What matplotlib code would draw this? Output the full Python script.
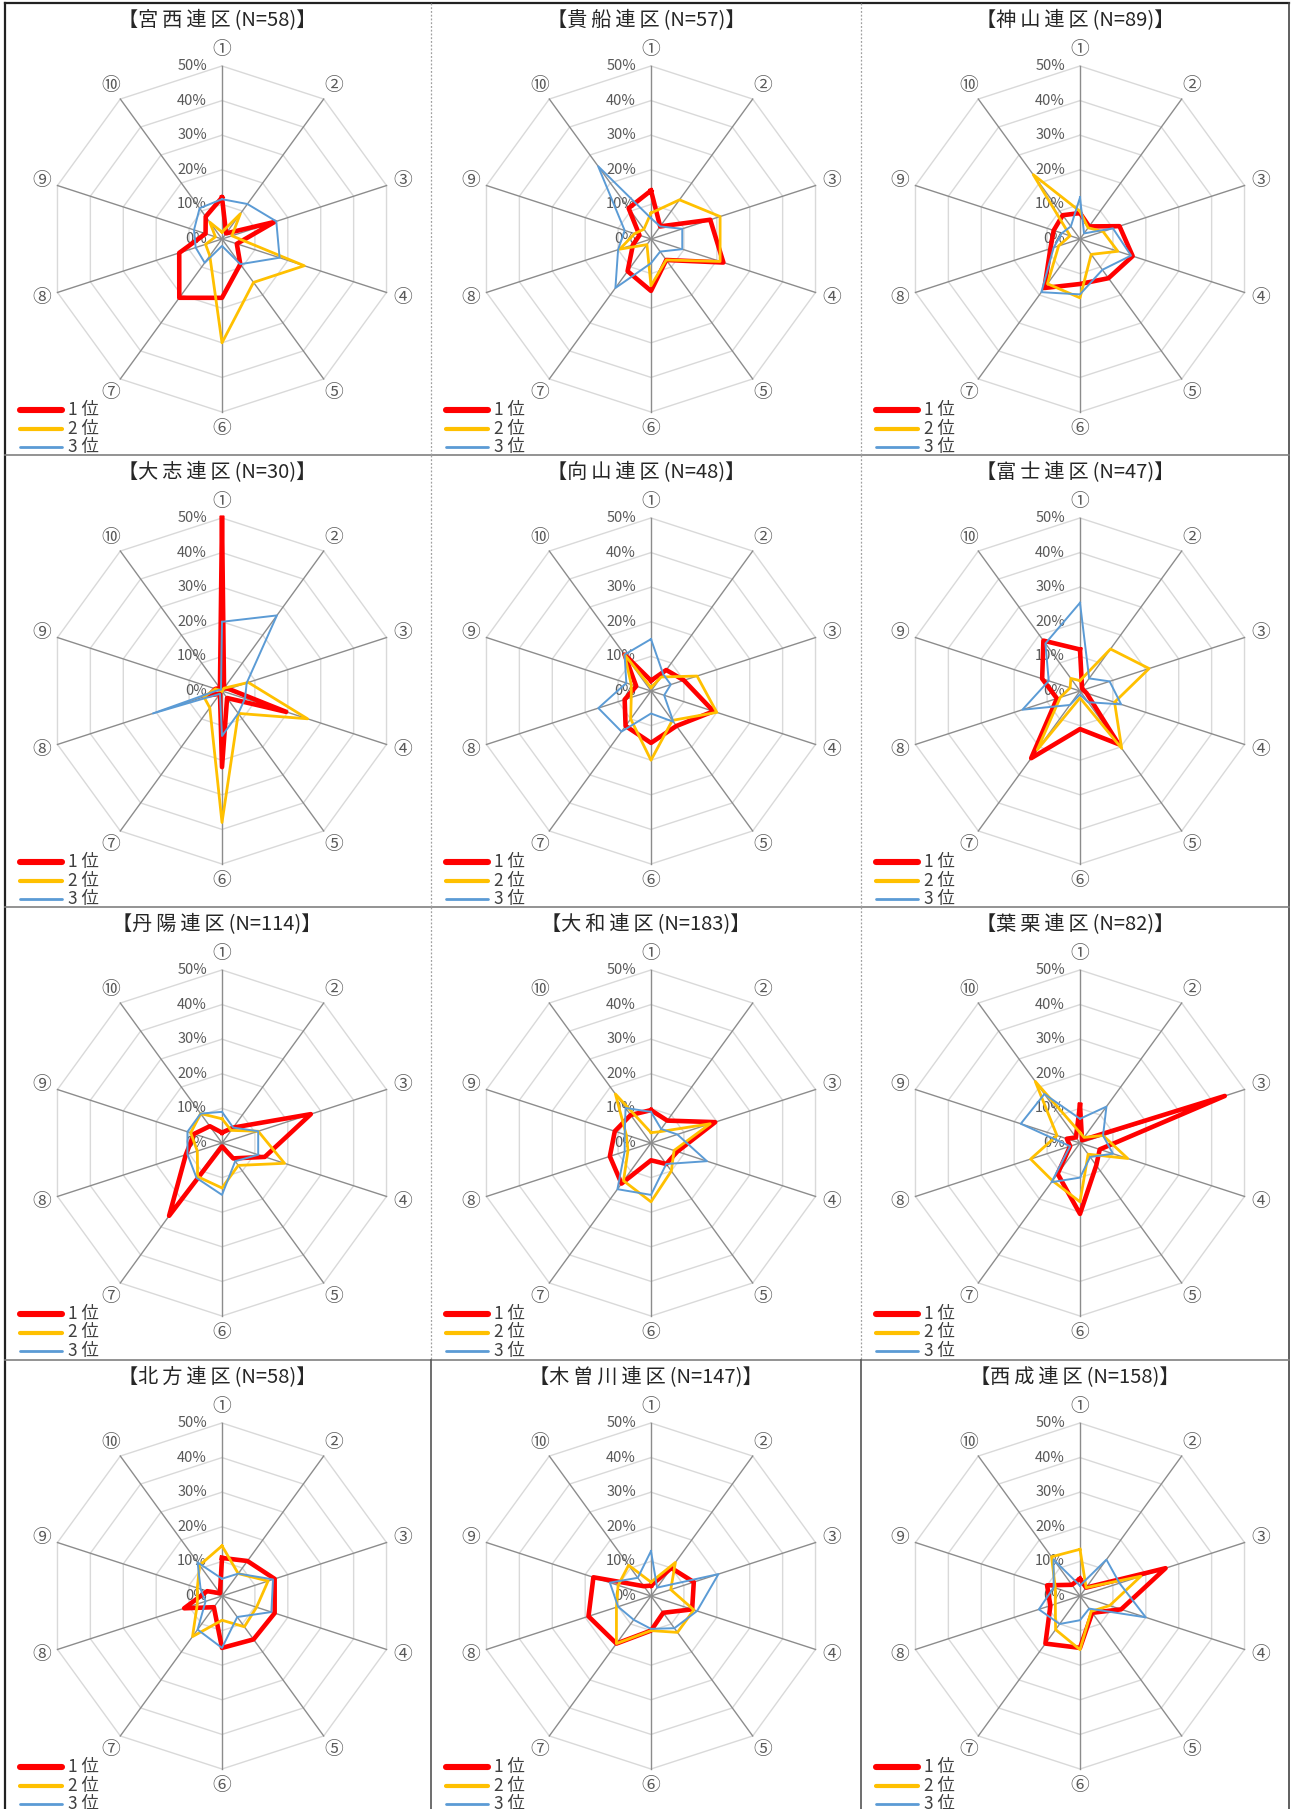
import numpy as np
import matplotlib
matplotlib.use('Agg')
import matplotlib.pyplot as plt
from matplotlib.transforms import ScaledTranslation

plt.rcParams['font.family'] = ['Noto Sans CJK JP', 'DejaVu Sans']

# ---------------- data ----------------
categories = ['①', '②', '③', '④', '⑤', '⑥', '⑦', '⑧', '⑨', '⑩']
districts = ['宮西', '貴船', '神山', '大志', '向山', '富士',
             '丹陽', '大和', '葉栗', '北方', '木曽川', '西成']
n_values = [58, 57, 89, 30, 48, 47, 114, 183, 82, 58, 147, 158]
series_labels = ['1 位', '2 位', '3 位']
r_ticks = [0, 10, 20, 30, 40, 50]

# percentages for ①..⑩
rank1 = [
    [12, 2, 16, 4.5, 9, 17, 21, 13, 5, 8],          # 宮西
    [14, 4.5, 18, 22, 7.5, 15, 11.5, 5.5, 3.5, 11],  # 貴船
    [7.5, 4.5, 12, 16, 14, 13, 17.5, 9, 8, 8.5],     # 神山
    [50, 1, 2, 19.5, 2.5, 22, 1, 4, 2, 1],           # 大志
    [3, 7.5, 10, 19, 12.5, 15, 12.5, 8, 4.5, 13],    # 向山
    [12, 1, 1, 2, 19, 11, 24, 7, 11.5, 18],          # 富士
    [3, 5.5, 27, 13, 5.5, 1, 26, 11, 8.5, 6],        # 丹陽
    [9.5, 8, 19.5, 8, 7.5, 5, 14.5, 12.5, 11, 10],   # 大和
    [11, 1, 44, 6, 8, 20.5, 11, 3, 4, 2],            # 葉栗
    [11, 12.5, 16, 16, 15.5, 15, 4, 11.5, 4.5, 1],   # 北方
    [3, 10, 13, 12.5, 6, 10, 17, 19, 17.5, 3.5],     # 木曽川
    [5, 3, 26, 12.5, 6, 15, 17, 9, 10, 4],           # 西成
]
rank2 = [
    [2, 9, 3, 25, 15.5, 30, 6, 5, 2, 6],
    [7.5, 14, 21, 21, 7.5, 13.5, 2, 9.5, 5, 3.5],
    [8, 4, 7, 11.5, 5.5, 17, 16, 6.5, 3, 23],
    [0, 1, 8, 26, 8, 38, 6, 5.5, 2, 0],
    [1, 5, 14, 20, 10.5, 20, 10, 6, 6, 13],
    [3, 15, 21, 10.5, 20.5, 2, 21, 6, 3, 4.5],
    [7, 4.5, 11, 19, 8, 13, 12, 7.5, 9.5, 10.5],
    [3, 4, 18, 7, 10, 17, 13.5, 7, 7.5, 17.5],
    [3, 2, 7, 14.5, 4, 17, 13.5, 15, 7, 22],
    [14.5, 8, 14, 10.5, 11, 7, 14.5, 7.5, 7.5, 11],
    [4, 12, 6, 13, 13, 10, 17, 10.5, 10, 11],
    [13.5, 3, 18.5, 9, 5.5, 15.5, 12, 7.5, 7.5, 14],
]
rank3 = [
    [11.5, 12.5, 16.5, 17.5, 9, 2, 8.5, 8, 8.5, 11],
    [6, 4.5, 9.5, 9.5, 4.5, 7, 17.5, 10, 8, 26],
    [12, 2, 10, 15.5, 11, 16, 19, 8, 5.5, 4.5],
    [20, 27, 7.5, 7, 8, 13, 1, 21, 1, 0.5],
    [15, 6, 6, 4, 11, 6.5, 14.5, 16, 7.5, 13],
    [25.5, 4.5, 9, 12.5, 4, 1, 5, 17.5, 9.5, 17],
    [9, 5.5, 11, 11, 6.5, 15, 12.5, 10.5, 10.5, 10.5],
    [9, 5, 8, 17, 7.5, 15, 16.5, 8, 8, 12.5],
    [7, 13, 7, 10, 5, 10, 14, 3, 18, 17.5],
    [5, 8, 15.5, 15, 7.5, 15, 12, 5, 6.5, 12],
    [13, 3, 20.5, 14, 11.5, 9.5, 8.5, 10, 12.5, 6.5],
    [3, 13, 12, 20, 4.5, 7, 10, 12.5, 8, 13],
]

# ---------------- layout ----------------
W, H = 1292, 1809
fig = plt.figure(figsize=(W / 100, H / 100), dpi=100)
fig.patch.set_facecolor('white')

col_left = [5, 431, 861]
col_right = [431, 861, 1289]
row_top = [3, 455, 907, 1360]
row_bottom = [455, 907, 1360, 1809]
cx_list = [222, 651, 1080]
R = 173

colors = ['#ff0000', '#ffc000', '#5b9bd5']
lws = [3.3, 2.0, 1.4]
leg_lws = [4.4, 3.0, 2.0]

theta = np.deg2rad(np.arange(len(categories)) * 36.0)
theta_c = np.append(theta, theta[0])


def fx(px):
    return px / W


def fy(py):
    return 1 - py / H


for i, name in enumerate(districts):
    r, c = divmod(i, 3)
    cx = cx_list[c]
    cy = row_top[r] + 236
    pw = col_right[c] - col_left[c]
    ph = row_bottom[r] - row_top[r]

    # panel axes for title and legend
    pax = fig.add_axes([fx(col_left[c]), fy(row_bottom[r]), pw / W, ph / H])
    pax.set_xlim(0, pw)
    pax.set_ylim(ph, 0)
    pax.axis('off')
    spaced = '\u2009'.join(list(name + '連区'))
    pax.text(cx - col_left[c] - 5, 18, f'【{spaced}\u2009(N={n_values[i]})】',
             ha='center', va='center', fontsize=14.5, color='#262626', clip_on=True)
    for k, (lab, colr, lw) in enumerate(zip(series_labels, colors, leg_lws)):
        y = 407 + 18.5 * k
        pax.plot([15, 57], [y, y], color=colr, lw=lw, solid_capstyle='round', clip_on=True)
        pax.text(63, y, lab, ha='left', va='center', fontsize=12.5, color='#404040', clip_on=True)

    # radar axes
    ax = fig.add_axes([fx(cx - R), fy(cy + R), 2 * R / W, 2 * R / H], projection='polar')
    ax.set_theta_zero_location('N')
    ax.set_theta_direction(-1)
    ax.set_ylim(0, r_ticks[-1])
    ax.set_xticks([])
    ax.set_yticks([])
    ax.grid(False)
    ax.spines['polar'].set_visible(False)
    ax.patch.set_alpha(0)

    for v in r_ticks[1:]:
        ax.plot(theta_c, [v] * len(theta_c), color='#d9d9d9', lw=1.0, zorder=1, clip_on=False)
    for t in theta:
        ax.plot([t, t], [0, r_ticks[-1]], color='#8c8c8c', lw=1.0, zorder=1.5, clip_on=False)

    off = ScaledTranslation(-0.15, 0, fig.dpi_scale_trans)
    for v in r_ticks:
        ax.text(0, v, f'{v}%', transform=ax.transData + off, ha='right', va='center',
                fontsize=10.5, color='#595959', zorder=2)
    for t, lab in zip(theta, categories):
        ax.text(t, 54.8, lab, ha='center', va='center', fontsize=13.5, color='#595959')

    for vals, colr, lw in zip([rank1[i], rank2[i], rank3[i]], colors, lws):
        v = np.append(vals, vals[0])
        ax.plot(theta_c, v, color=colr, lw=lw, clip_on=False, zorder=3,
                solid_joinstyle='round')

# frame and separators
bg = fig.add_axes([0, 0, 1, 1], zorder=10)
bg.set_xlim(0, W)
bg.set_ylim(H, 0)
bg.axis('off')
bg.patch.set_alpha(0)
bg.plot([5, 5], [3, H], color='#222222', lw=1.6)
bg.plot([5, 1289], [3, 3], color='#222222', lw=1.6)
bg.plot([1289, 1289], [3, H], color='#444444', lw=1.2)
for y in row_top[1:]:
    bg.plot([5, 1289], [y, y], color='#808080', lw=1.2)
for x in col_right[:2]:
    for r in range(4):
        if r == 3:
            bg.plot([x, x], [row_top[r], row_bottom[r]], color='#555555', lw=1.2)
        else:
            bg.plot([x, x], [row_top[r], row_bottom[r]], color='#a0a0a0', lw=0.9,
                    linestyle=(0, (1.5, 1.5)))

fig.savefig('out.png', dpi=100, facecolor='white')
